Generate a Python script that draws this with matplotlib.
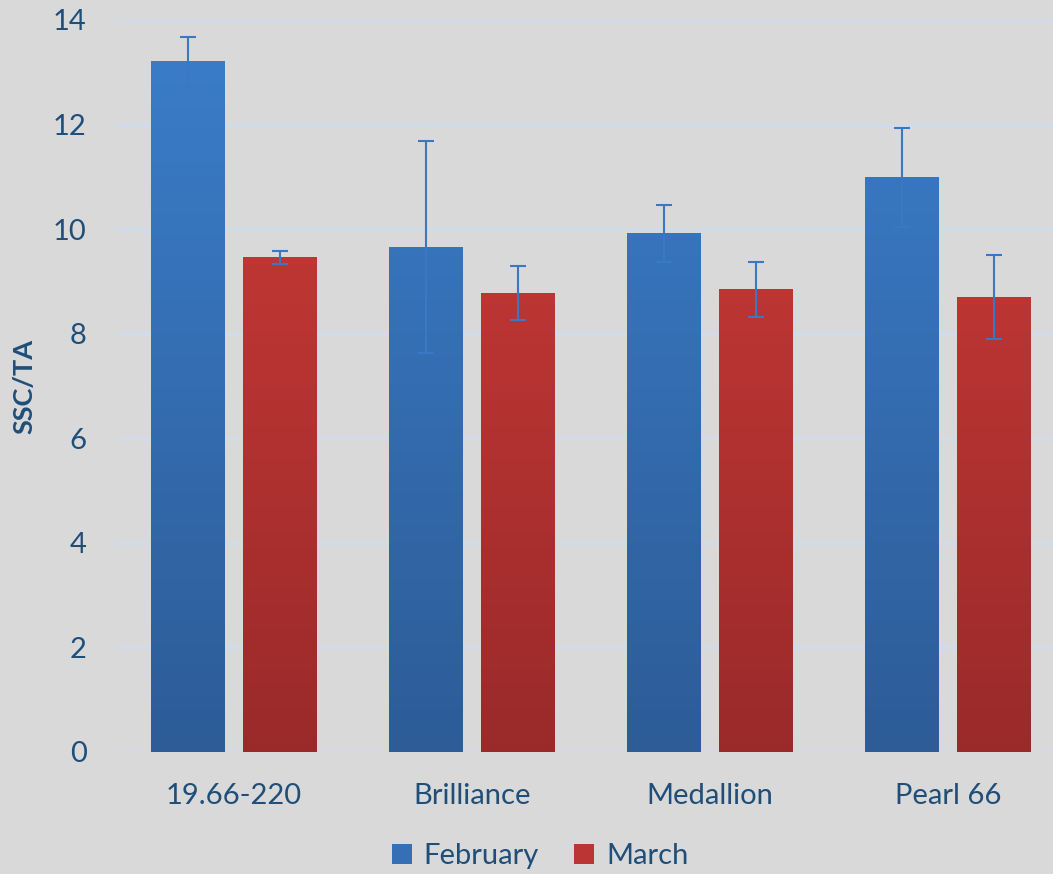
import numpy as np
import matplotlib.pyplot as plt
from matplotlib.colors import LinearSegmentedColormap

# data
cultivars = ['19.66-220', 'Brilliance', 'Medallion', 'Pearl 66']
feb_vals = [13.21, 9.66, 9.92, 10.99]
feb_err = [0.47, 2.03, 0.55, 0.95]
mar_vals = [9.46, 8.78, 8.85, 8.70]
mar_err = [0.13, 0.52, 0.53, 0.80]

bg = '#d9d9d9'
txt = '#1f4e79'
plt.rcParams['font.family'] = ['Lato', 'DejaVu Sans']

fig = plt.figure(figsize=(10.53, 8.74), dpi=100, facecolor=bg)
ax = fig.add_axes([116 / 1053, 122 / 874, 937 / 1053, 732 / 874], facecolor=bg)

x = np.arange(len(cultivars))
w = 0.31
off = 0.193

blue_cm = LinearSegmentedColormap.from_list('b', ['#2d5c97', '#3b7ecb'])
red_cm = LinearSegmentedColormap.from_list('r', ['#9a2a2a', '#d03c39'])
grad = np.linspace(0, 1, 256).reshape(-1, 1)


def gradient_bars(xs, vals, cmap, label):
    bars = ax.bar(xs, vals, w, color=cmap(0.6), label=label, zorder=2)
    for b in bars:
        x0 = b.get_x()
        im = ax.imshow(grad, cmap=cmap, origin='lower', aspect='auto',
                       extent=[x0, x0 + b.get_width(), 0, 14], zorder=2.5)
        im.set_clip_path(b)
    return bars


gradient_bars(x - off, feb_vals, blue_cm, 'February')
gradient_bars(x + off, mar_vals, red_cm, 'March')

ax.errorbar(x - off, feb_vals, yerr=feb_err, fmt='none', ecolor='#3a78c4',
            elinewidth=1.5, capsize=6, capthick=1.5, zorder=3)
ax.errorbar(x + off, mar_vals, yerr=mar_err, fmt='none', ecolor='#3a78c4',
            elinewidth=1.5, capsize=6, capthick=1.5, zorder=3)

ax.set_xlim(-0.496, 3.44)
ax.set_ylim(0, 14)
ax.set_yticks(range(0, 15, 2))
ax.yaxis.grid(True, color='#cfdcee', linewidth=2, zorder=0)
ax.set_axisbelow(True)
for s in ax.spines.values():
    s.set_visible(False)
ax.axhline(0, color='#cfdcee', linewidth=2, zorder=1)

ax.set_xticks(x)
ax.set_xticklabels(cultivars)
ax.tick_params(axis='both', length=0, labelsize=21, labelcolor=txt)
ax.tick_params(axis='x', pad=22)
ax.tick_params(axis='y', pad=21)
ax.set_ylabel('SSC/TA', fontsize=19.5, fontweight='bold', color=txt, labelpad=12)

ax.legend(loc='center', bbox_to_anchor=(540 / 1053, 1 - 856 / 874),
          bbox_transform=fig.transFigure, ncol=2, frameon=False,
          fontsize=21, labelcolor=txt, handlelength=0.7, handleheight=0.7,
          handletextpad=0.4, columnspacing=1.2)

fig.savefig('out.png', dpi=100, facecolor=bg)
